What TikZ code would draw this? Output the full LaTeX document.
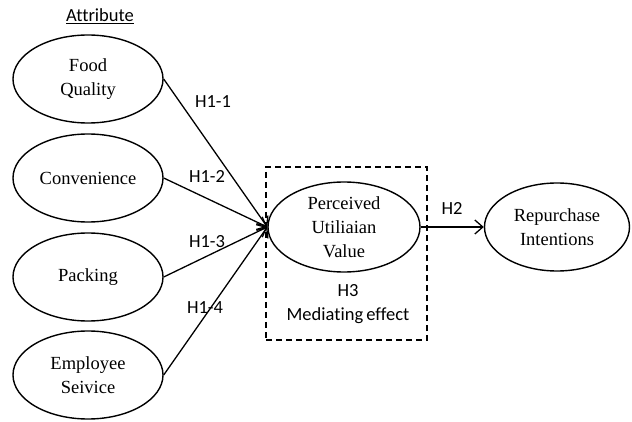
\documentclass[tikz,border=0pt]{standalone}
\usepackage{fontspec}
\setmainfont{Liberation Serif}
\newfontfamily\lblfont[Ligatures=NoCommon]{Carlito}
\usetikzlibrary{shapes.geometric,arrows.meta}
\begin{document}
\begin{tikzpicture}[x=1pt,y=-1pt,
  construct/.style={draw,line width=1.4pt,ellipse,inner sep=0pt,minimum width=150pt,minimum height=88pt,
    align=center,font=\fontsize{18.5}{24}\selectfont},
  lbl/.style={font=\lblfont\fontsize{18.5}{24}\selectfont,inner sep=0pt},
  link/.style={line width=1.3pt,-{Straight Barb[length=8pt,width=14pt,line width=1.3pt]}},
  dashbox/.style={draw,line width=2pt,dash pattern=on 6pt off 4pt}]
\useasboundingbox (0,0) rectangle (632,422);
\node[lbl] (attr) at (100,16) {\underline{Attribute}};
\node[construct] (fq) at (88,79) {Food\\Quality};
\node[construct] (cv) at (88,178) {Convenience};
\node[construct] (pk) at (88,277) {Packing};
\node[construct] (es) at (88,375) {Employee\\Seivice};
\node[construct,minimum width=152pt,minimum height=90pt] (pv) at (344,227) {Perceived\\Utiliaian\\Value};
\node[construct,minimum width=145pt] (ri) at (557,227) {Repurchase\\Intentions};
\node[dashbox,minimum width=161pt,minimum height=173pt,inner sep=0pt] (box) at (346.5,253.5) {};
\node[lbl] (h11) at (213,102) {H1-1};
\node[lbl] (h12) at (207,176) {H1-2};
\node[lbl] (h13) at (207,242) {H1-3};
\node[lbl] (h14) at (205,308) {H1-4};
\node[lbl] (h2) at (452,208) {H2};
\node[lbl,align=center] (h3) at (348,304) {H3\\Mediating\hspace{-1pt} effect};
\draw[link] (fq.east) -- (pv.west);
\draw[link] (cv.east) -- (pv.west);
\draw[link] (pk.east) -- (pv.west);
\draw[link] (es.east) -- (pv.west);
\draw[link] (pv.east) -- (ri.west);
\end{tikzpicture}
\end{document}
